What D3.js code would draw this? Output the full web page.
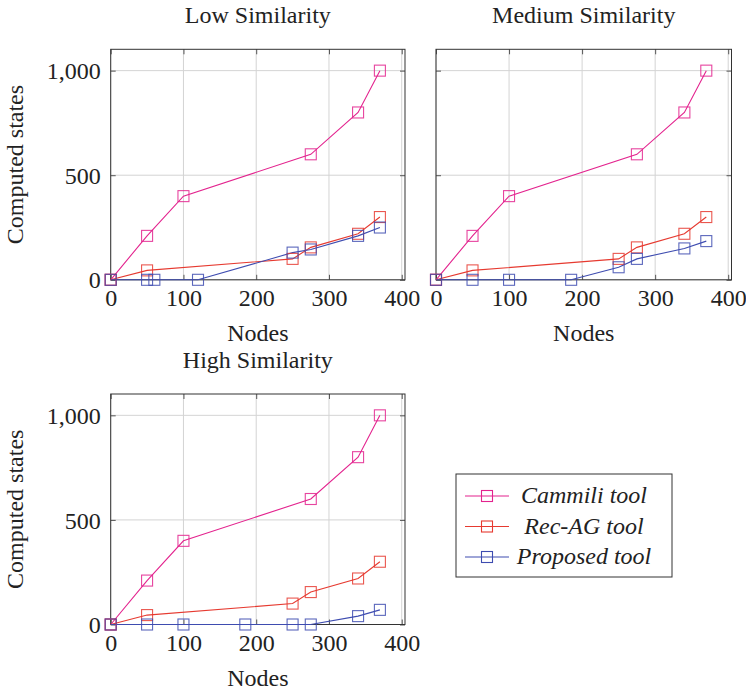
<!DOCTYPE html>
<meta charset="utf-8">
<html>
<style>
  body { margin: 0; background: #fff; }
</style>
<body>
<div id="chart"></div>
<script src="https://d3js.org/d3.v7.min.js"></script>
<script>
// ---- data ----
const seriesNames = ["Cammili tool", "Rec-AG tool", "Proposed tool"];
const seriesColors = ["#e3238e", "#e63a30", "#3e4cb0"];

const panelTitles = ["Low Similarity", "Medium Similarity", "High Similarity"];
const xTicks = [0, 100, 200, 300, 400];
const yTicks = [0, 500, 1000];

const nodesCammili = [0, 50, 100, 275, 340, 370];
const cammiliLow  = [0, 210, 400, 600, 800, 1000];
const cammiliMed  = [0, 210, 400, 600, 800, 1000];
const cammiliHigh = [0, 210, 400, 600, 800, 1000];

const nodesRecAG = [0, 50, 250, 275, 340, 370];
const recAGLow  = [0, 45, 100, 155, 220, 300];
const recAGMed  = [0, 45, 100, 155, 220, 300];
const recAGHigh = [0, 45, 100, 155, 220, 300];

const nodesProposedLow  = [0, 50, 60, 120, 250, 275, 340, 370];
const proposedLow       = [0, 0, 0, 0, 130, 145, 210, 250];
const nodesProposedMed  = [0, 50, 100, 185, 250, 275, 340, 370];
const proposedMed       = [0, 0, 0, 0, 60, 100, 150, 185];
const nodesProposedHigh = [0, 50, 100, 185, 250, 275, 340, 370];
const proposedHigh      = [0, 0, 0, 0, 0, 0, 40, 70];

const zip = (xs, ys) => xs.map((x, i) => ({x: x, y: ys[i]}));

const panels = [
  {title: panelTitles[0], left: 110.7, top: 49.3, w: 294.3, h: 230.5, ylab: true,
   series: [zip(nodesCammili, cammiliLow), zip(nodesRecAG, recAGLow), zip(nodesProposedLow, proposedLow)]},
  {title: panelTitles[1], left: 436, top: 49.3, w: 295.5, h: 230.5, ylab: false,
   series: [zip(nodesCammili, cammiliMed), zip(nodesRecAG, recAGMed), zip(nodesProposedMed, proposedMed)]},
  {title: panelTitles[2], left: 110.7, top: 394, w: 294.3, h: 230.5, ylab: true,
   series: [zip(nodesCammili, cammiliHigh), zip(nodesRecAG, recAGHigh), zip(nodesProposedHigh, proposedHigh)]}
];

const W = 746, H = 696;
const fs = 24;
const serif = "'Liberation Serif', 'Times New Roman', Times, serif";
const svg = d3.select("#chart").append("svg")
  .attr("width", W).attr("height", H)
  .style("font-family", serif);

const mk = 11; // marker size

panels.forEach(p => {
  const g = svg.append("g").attr("transform", "translate(" + p.left + "," + p.top + ")");
  const x = d3.scaleLinear().domain([0, 404.5]).range([0, p.w]);
  const y = d3.scaleLinear().domain([0, 1102]).range([p.h, 0]);

  // grid
  g.append("g").selectAll("line").data(xTicks).join("line")
    .attr("x1", d => x(d)).attr("x2", d => x(d))
    .attr("y1", 0).attr("y2", p.h)
    .attr("stroke", "#d4d4d4").attr("stroke-width", 1);
  g.append("g").selectAll("line").data(yTicks).join("line")
    .attr("x1", 0).attr("x2", p.w)
    .attr("y1", d => y(d)).attr("y2", d => y(d))
    .attr("stroke", "#d4d4d4").attr("stroke-width", 1);

  // axes, ticks inward on all sides
  const xb = d3.axisBottom(x).tickValues(xTicks).tickSize(-5).tickSizeOuter(0).tickPadding(9);
  const xt = d3.axisTop(x).tickValues(xTicks).tickSize(-5).tickSizeOuter(0).tickFormat("");
  const yl = d3.axisLeft(y).tickValues(yTicks).tickSize(-5).tickSizeOuter(0).tickPadding(10).tickFormat(d3.format(","));
  const yr = d3.axisRight(y).tickValues(yTicks).tickSize(-5).tickSizeOuter(0).tickFormat("");

  const ax = g.append("g").attr("transform", "translate(0," + p.h + ")").call(xb);
  g.append("g").call(xt);
  const ay = g.append("g").call(yl);
  g.append("g").attr("transform", "translate(" + p.w + ",0)").call(yr);
  if (!p.ylab) ay.selectAll("text").remove();

  g.selectAll(".domain").remove();
  g.selectAll("g").attr("font-family", null);
  g.selectAll(".tick line").attr("stroke", "#555");
  g.selectAll(".tick text").style("font-size", fs + "px").style("font-family", serif).attr("fill", "#222");
  ax.selectAll(".tick text").attr("dy", "0.71em");
  ay.selectAll(".tick text").attr("dy", "0.34em");

  // frame
  g.append("rect").attr("width", p.w).attr("height", p.h)
    .attr("fill", "none").attr("stroke", "#333").attr("stroke-width", 1);

  // series
  const line = d3.line().x(d => x(d.x)).y(d => y(d.y));
  p.series.forEach((s, i) => {
    g.append("path").datum(s)
      .attr("d", line).attr("fill", "none")
      .attr("stroke", seriesColors[i]).attr("stroke-width", 1.1);
  });
  p.series.forEach((s, i) => {
    g.append("g").selectAll("rect").data(s).join("rect")
      .attr("x", d => x(d.x) - mk / 2).attr("y", d => y(d.y) - mk / 2)
      .attr("width", mk).attr("height", mk)
      .attr("fill", "none").attr("stroke", seriesColors[i]).attr("stroke-width", 1.1)
      .attr("opacity", 0.85);
  });

  // title and labels
  g.append("text").attr("x", p.w / 2).attr("y", -26.5)
    .attr("text-anchor", "middle").attr("fill", "#222")
    .style("font-family", serif).style("font-size", fs + "px").text(p.title);
  g.append("text").attr("x", p.w / 2).attr("y", p.h + 61)
    .attr("text-anchor", "middle").attr("fill", "#222")
    .style("font-family", serif).style("font-size", fs + "px").text("Nodes");
  if (p.ylab) {
    g.append("text")
      .attr("transform", "translate(" + (23 - p.left) + "," + (p.h / 2) + ") rotate(-90)")
      .attr("text-anchor", "middle").attr("fill", "#222")
      .style("font-family", serif).style("font-size", fs + "px").text("Computed states");
  }
});

// legend
const lg = svg.append("g").attr("transform", "translate(456,474)");
lg.append("rect").attr("width", 216).attr("height", 103)
  .attr("fill", "#fff").attr("stroke", "#333").attr("stroke-width", 1);
seriesNames.forEach((name, i) => {
  const cy = 22 + i * 30.5;
  lg.append("line").attr("x1", 9).attr("x2", 53).attr("y1", cy).attr("y2", cy)
    .attr("stroke", seriesColors[i]).attr("stroke-width", 1.1);
  lg.append("rect").attr("x", 31 - mk / 2).attr("y", cy - mk / 2).attr("width", mk).attr("height", mk)
    .attr("fill", "none").attr("stroke", seriesColors[i]).attr("stroke-width", 1.1);
  lg.append("text").attr("x", 128).attr("y", cy + 7)
    .attr("text-anchor", "middle").attr("fill", "#222")
    .style("font-family", serif).style("font-size", fs + "px").style("font-style", "italic")
    .text(name);
});
</script>
</body>
</html>
